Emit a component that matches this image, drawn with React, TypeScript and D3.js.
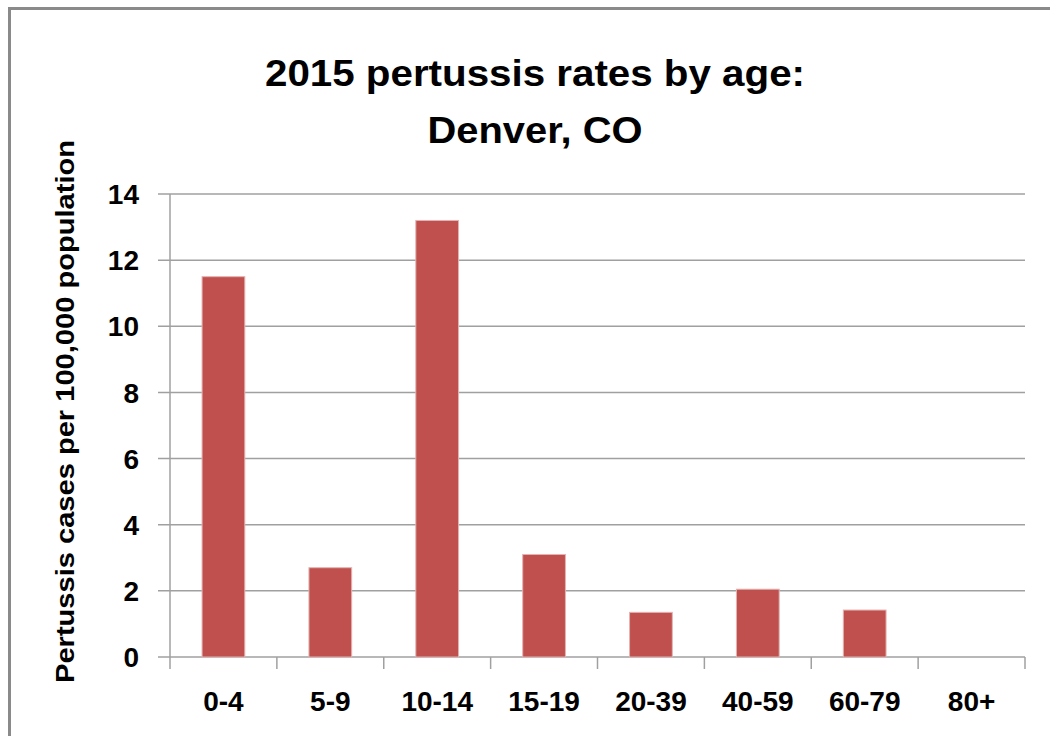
import React, { useRef, useEffect } from 'react'
import * as d3 from 'd3'

const ageGroups = ['0-4', '5-9', '10-14', '15-19', '20-39', '40-59', '60-79', '80+']
const rates = [11.5, 2.7, 13.2, 3.1, 1.35, 2.05, 1.42, 0]
const yTicks = [0, 2, 4, 6, 8, 10, 12, 14]
const titleLines = ['2015 pertussis rates by age:', 'Denver, CO']
const yLabel = 'Pertussis cases per 100,000 population'

const W = 1050
const H = 736
const FONT = '"Liberation Sans", Arial, sans-serif'

const App: React.FC = () => {
    const svgRef = useRef<SVGSVGElement>(null)

    useEffect(() => {
        if (!svgRef.current) return
        const svg = d3.select(svgRef.current)
        svg.selectAll('*').remove()

        const left = 170
        const right = 1025
        const top = 194
        const bottom = 657

        // frame (only top/left visible in the crop)
        svg.append('rect')
            .attr('x', 9.5)
            .attr('y', 8.5)
            .attr('width', W + 20)
            .attr('height', H + 20)
            .attr('fill', '#fff')
            .attr('stroke', '#8a8a8a')
            .attr('stroke-width', 3)

        const x = d3.scaleBand<string>().domain(ageGroups).range([left, right]).padding(0)
        const y = d3.scaleLinear().domain([0, 14]).range([bottom, top])
        const step = x.step()
        const barW = step * 0.4

        // gridlines + y ticks
        svg.append('g')
            .selectAll('line')
            .data(yTicks)
            .enter()
            .append('line')
            .attr('x1', left - 12)
            .attr('x2', right)
            .attr('y1', (d) => y(d))
            .attr('y2', (d) => y(d))
            .attr('stroke', '#a0a0a0')
            .attr('stroke-width', 1.5)

        // y axis line
        svg.append('line')
            .attr('x1', left)
            .attr('x2', left)
            .attr('y1', top)
            .attr('y2', bottom)
            .attr('stroke', '#a0a0a0')
            .attr('stroke-width', 1.5)

        // x ticks at category boundaries
        const bounds = ageGroups.map((c) => x(c)!).concat([right])
        svg.append('g')
            .selectAll('line')
            .data(bounds)
            .enter()
            .append('line')
            .attr('x1', (d) => d)
            .attr('x2', (d) => d)
            .attr('y1', bottom)
            .attr('y2', bottom + 12)
            .attr('stroke', '#a0a0a0')
            .attr('stroke-width', 1.5)

        // bars
        svg.append('g')
            .selectAll('rect')
            .data(rates)
            .enter()
            .append('rect')
            .attr('x', (_, i) => x(ageGroups[i])! + (step - barW) / 2)
            .attr('y', (d) => y(d))
            .attr('width', barW)
            .attr('height', (d) => bottom - y(d))
            .attr('fill', '#c0504d')
            .attr('stroke', '#e3b3b2')
            .attr('stroke-width', (d) => (d > 0 ? 1 : 0))

        // y tick labels
        svg.append('g')
            .selectAll('text')
            .data(yTicks)
            .enter()
            .append('text')
            .attr('x', 139)
            .attr('y', (d) => y(d))
            .attr('dy', '0.36em')
            .attr('text-anchor', 'end')
            .style('font-family', FONT)
            .style('font-weight', 'bold')
            .style('font-size', '28px')
            .text((d) => d)

        // x labels
        svg.append('g')
            .selectAll('text')
            .data(ageGroups)
            .enter()
            .append('text')
            .attr('x', (d) => x(d)! + step / 2)
            .attr('y', 711)
            .attr('text-anchor', 'middle')
            .style('font-family', FONT)
            .style('font-weight', 'bold')
            .style('font-size', '28px')
            .text((d) => d)

        // y axis title
        svg.append('text')
            .attr('transform', `translate(74,${(140 + 683) / 2}) rotate(-90)`)
            .attr('text-anchor', 'middle')
            .attr('textLength', 543)
            .attr('lengthAdjust', 'spacingAndGlyphs')
            .style('font-family', FONT)
            .style('font-weight', 'bold')
            .style('font-size', '26px')
            .text(yLabel)

        // title
        const titleW = [540, 215]
        const titleY = [86, 143]
        titleLines.forEach((t, i) => {
            svg.append('text')
                .attr('x', 535)
                .attr('y', titleY[i])
                .attr('text-anchor', 'middle')
                .attr('textLength', titleW[i])
                .attr('lengthAdjust', 'spacingAndGlyphs')
                .style('font-family', FONT)
                .style('font-weight', 'bold')
                .style('font-size', '36px')
                .text(t)
        })
    }, [])

    return (
        <svg
            ref={svgRef}
            width={W}
            height={H}
            style={{ position: 'absolute', left: 0, top: 0, background: '#fff' }}
        />
    )
}

export default App
